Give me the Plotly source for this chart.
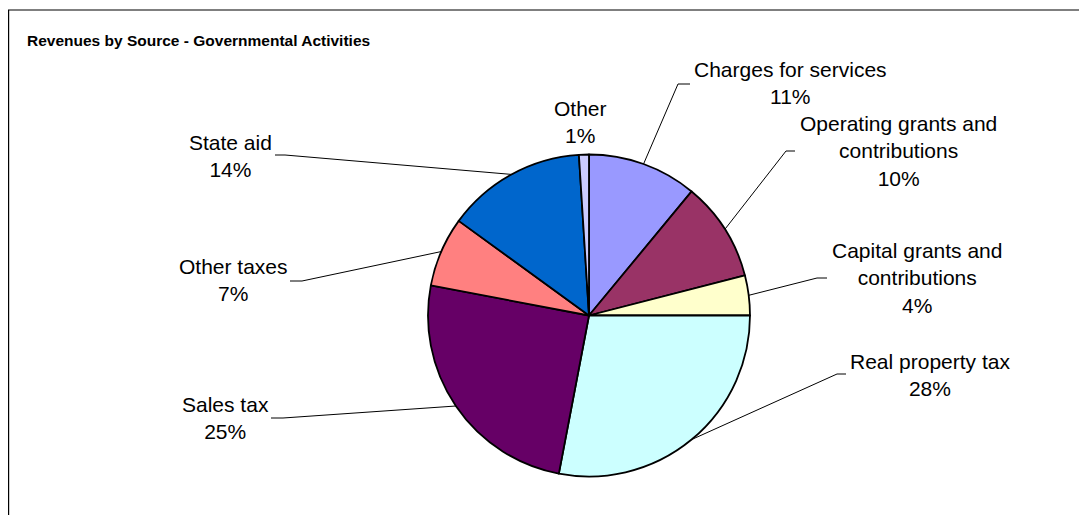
import math
import plotly.graph_objects as go

# ---- data ----
categories = ["Charges for services", "Operating grants and contributions",
              "Capital grants and contributions", "Real property tax",
              "Sales tax", "Other taxes", "State aid", "Other"]
label_text = ["Charges for services", "Operating grants and<br>contributions",
              "Capital grants and<br>contributions", "Real property tax",
              "Sales tax", "Other taxes", "State aid", "Other"]
values = [11, 10, 4, 28, 25, 7, 14, 1]
colors = ["#9999FF", "#993366", "#FFFFCC", "#CCFFFF",
          "#660066", "#FF8080", "#0066CC", "#CCCCFF"]

# ---- layout (page pixels) ----
PAGE_W, PAGE_H = 1087, 515
OFF = 8  # default page body margin
W, H = PAGE_W - OFF, PAGE_H - OFF
CX, CY, R = 589, 315.5, 161
# label centre (x, y) and leader elbow / end points (None = no leader)
label_pos = [(790, 83), (898, 151), (917, 278), (930, 375),
             (225, 418), (233, 280), (230, 156), (580, 122)]
leader = [((678, 84), (690, 84)), ((786, 151), (795, 151)),
          ((817, 278), (827, 278)), ((837, 374), (846, 374)),
          ((283, 418), (271, 418)), ((302, 281), (290, 281)),
          ((285, 155), (275, 155)), None]

FONT = "Liberation Sans, Arial, sans-serif"
total = sum(values)

fig = go.Figure()
fig.add_trace(go.Pie(
    labels=categories, values=values, sort=False, direction="clockwise",
    rotation=0, textinfo="none", hoverinfo="label+percent",
    marker=dict(colors=colors, line=dict(color="black", width=1.8)),
    domain=dict(x=[(CX - R - OFF) / W, (CX + R - OFF) / W],
                y=[1 - (CY + R - OFF) / H, 1 - (CY - R - OFF) / H]),
    showlegend=False,
))

# leader lines computed from slice mid-angles
cum = 0
for i, v in enumerate(values):
    mid = (cum + v / 2) / total * 2 * math.pi
    cum += v
    if leader[i] is None:
        continue
    ax = CX + R * math.sin(mid)
    ay = CY - R * math.cos(mid)
    (ex, ey), (tx, ty) = leader[i]
    fig.add_trace(go.Scatter(x=[ax, ex, tx], y=[ay, ey, ty], mode="lines",
                             line=dict(color="black", width=1),
                             hoverinfo="skip", showlegend=False))

for i, v in enumerate(values):
    pct = round(100 * v / total)
    x, y = label_pos[i]
    fig.add_annotation(x=x, y=y, xref="x", yref="y", showarrow=False,
                       text=f"{label_text[i]}<br>{pct}%", align="center",
                       xanchor="center", yanchor="middle",
                       font=dict(family=FONT, size=21, color="black"))

fig.add_annotation(x=25, y=40, xref="x", yref="y", showarrow=False,
                   text="<b>Revenues by Source - Governmental Activities</b>",
                   xanchor="left", yanchor="middle",
                   font=dict(family=FONT, size=15.5, color="black"))

# frame
fig.add_shape(type="rect", x0=OFF + 0.6, y0=10, x1=PAGE_W + 20, y1=PAGE_H + 20,
              xref="x", yref="y", line=dict(color="black", width=1.2), layer="below")

fig.update_layout(
    width=W, height=H, margin=dict(l=0, r=0, t=0, b=0),
    paper_bgcolor="white", plot_bgcolor="rgba(0,0,0,0)",
    xaxis=dict(range=[OFF, PAGE_W], visible=False, fixedrange=True),
    yaxis=dict(range=[PAGE_H, OFF], visible=False, fixedrange=True),
)

fig.write_html("out.html")
